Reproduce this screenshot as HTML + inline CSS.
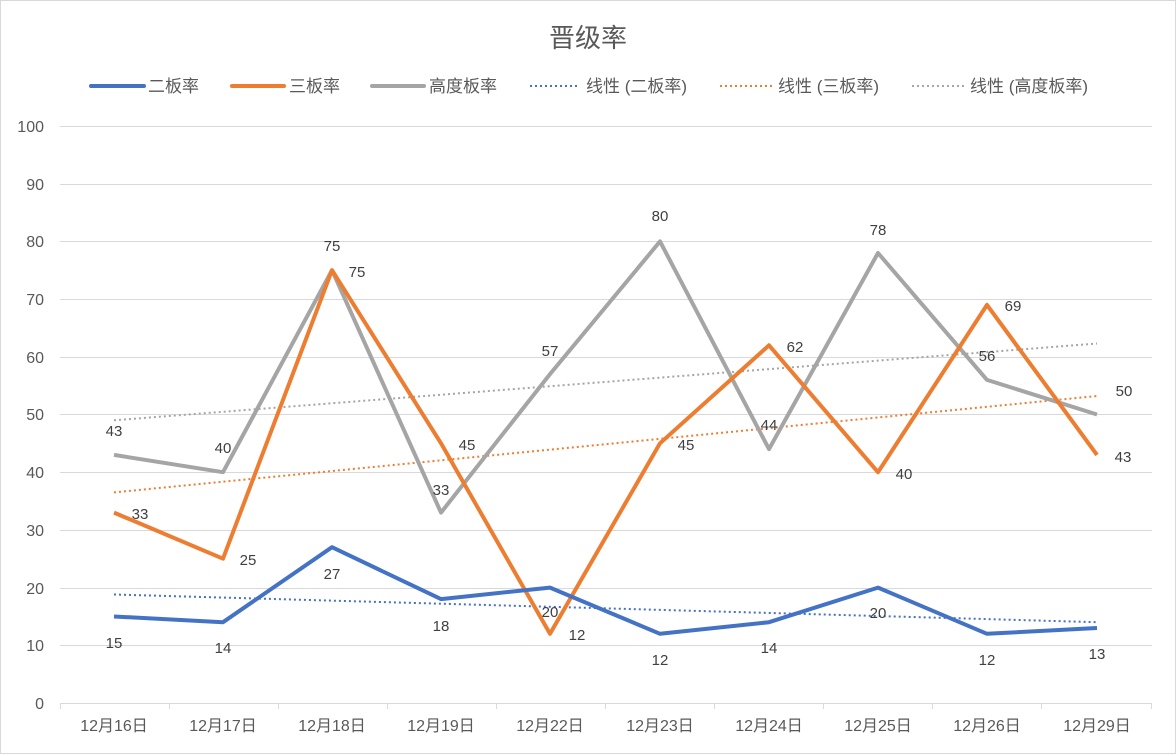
<!DOCTYPE html>
<html><head><meta charset="utf-8"><style>
body{margin:0;background:#fff}
svg{display:block;font-family:"Liberation Sans","Noto Sans CJK SC",sans-serif}
</style></head><body>
<svg width="1176" height="754" viewBox="0 0 1176 754">
<rect x="0.5" y="0.5" width="1175" height="753" fill="#fff" stroke="#d9d9d9"/>
<text x="588" y="47" font-size="26" text-anchor="middle" fill="#595959">晋级率</text>
<g font-size="17" fill="#595959">
<line x1="91" y1="86" x2="144" y2="86" stroke="#4472C4" stroke-width="4" stroke-linecap="round"/><text x="148" y="92">二板率</text>
<line x1="232" y1="86" x2="284" y2="86" stroke="#ED7D31" stroke-width="4" stroke-linecap="round"/><text x="289" y="92">三板率</text>
<line x1="372" y1="86" x2="424" y2="86" stroke="#A5A5A5" stroke-width="4" stroke-linecap="round"/><text x="429" y="92">高度板率</text>
<line x1="530" y1="86" x2="580" y2="86" stroke="#4472C4" stroke-width="2" stroke-dasharray="2,3"/><text x="586" y="92">线性 (二板率)</text>
<line x1="720" y1="86" x2="772" y2="86" stroke="#ED7D31" stroke-width="2" stroke-dasharray="2,3"/><text x="778" y="92">线性 (三板率)</text>
<line x1="912" y1="86" x2="964" y2="86" stroke="#A5A5A5" stroke-width="2" stroke-dasharray="2,3"/><text x="970" y="92">线性 (高度板率)</text>
</g>
<g stroke="#d9d9d9" stroke-width="1">
<line x1="60" x2="1152" y1="126.5" y2="126.5"/><line x1="60" x2="1152" y1="184.5" y2="184.5"/>
<line x1="60" x2="1152" y1="241.5" y2="241.5"/><line x1="60" x2="1152" y1="299.5" y2="299.5"/>
<line x1="60" x2="1152" y1="357.5" y2="357.5"/><line x1="60" x2="1152" y1="414.5" y2="414.5"/>
<line x1="60" x2="1152" y1="472.5" y2="472.5"/><line x1="60" x2="1152" y1="530.5" y2="530.5"/>
<line x1="60" x2="1152" y1="588.5" y2="588.5"/><line x1="60" x2="1152" y1="645.5" y2="645.5"/>
<line x1="60" x2="1152" y1="703.5" y2="703.5"/>
<line x1="60.5" x2="60.5" y1="703" y2="709"/><line x1="169.5" x2="169.5" y1="703" y2="709"/>
<line x1="278.5" x2="278.5" y1="703" y2="709"/><line x1="387.5" x2="387.5" y1="703" y2="709"/>
<line x1="496.5" x2="496.5" y1="703" y2="709"/><line x1="605.5" x2="605.5" y1="703" y2="709"/>
<line x1="714.5" x2="714.5" y1="703" y2="709"/><line x1="823.5" x2="823.5" y1="703" y2="709"/>
<line x1="932.5" x2="932.5" y1="703" y2="709"/><line x1="1041.5" x2="1041.5" y1="703" y2="709"/>
<line x1="1151.5" x2="1151.5" y1="703" y2="709"/>
</g>
<g font-size="16" fill="#595959" text-anchor="end">
<text x="44" y="132">100</text><text x="44" y="190">90</text><text x="44" y="247">80</text>
<text x="44" y="305">70</text><text x="44" y="363">60</text><text x="44" y="420">50</text>
<text x="44" y="478">40</text><text x="44" y="536">30</text><text x="44" y="594">20</text>
<text x="44" y="651">10</text><text x="44" y="709">0</text>
</g>
<g font-size="16" fill="#595959" text-anchor="middle">
<text x="114" y="731">12月16日</text><text x="223" y="731">12月17日</text><text x="332" y="731">12月18日</text>
<text x="441" y="731">12月19日</text><text x="550" y="731">12月22日</text><text x="660" y="731">12月23日</text>
<text x="769" y="731">12月24日</text><text x="878" y="731">12月25日</text><text x="987" y="731">12月26日</text>
<text x="1097" y="731">12月29日</text>
</g>
<g fill="none" stroke-width="2" stroke-dasharray="2,3">
<line x1="114" y1="594.5" x2="1097" y2="622.2" stroke="#4472C4"/>
<line x1="114" y1="492.4" x2="1097" y2="396" stroke="#ED7D31"/>
<line x1="114" y1="420.3" x2="1097" y2="343.5" stroke="#A5A5A5"/>
</g>
<g fill="none" stroke-width="4" stroke-linejoin="round">
<polyline stroke="#A5A5A5" points="114,454.9 223,472.2 332,270.2 441,512.6 550,374.1 660,241.4 769,449.1 878,253 987,379.9 1097,414.5"/>
<polyline stroke="#ED7D31" points="114,512.6 223,558.7 332,270.2 441,443.3 550,633.8 660,443.3 769,345.3 878,472.2 987,304.9 1097,454.9"/>
<polyline stroke="#4472C4" points="114,616.5 223,622.2 332,547.2 441,599.1 550,587.6 660,633.8 769,622.2 878,587.6 987,633.8 1097,628"/>
</g>
<g font-size="15" fill="#404040" text-anchor="middle">
<text x="114" y="648">15</text><text x="223" y="653">14</text><text x="332" y="579">27</text><text x="441" y="631">18</text>
<text x="550" y="617">20</text><text x="660" y="665">12</text><text x="769" y="653">14</text><text x="878" y="618">20</text>
<text x="987" y="665">12</text><text x="1097" y="659">13</text>
<text x="140" y="519">33</text><text x="248" y="565">25</text><text x="357" y="277">75</text><text x="467" y="450">45</text>
<text x="577" y="640">12</text><text x="686" y="450">45</text><text x="795" y="352">62</text><text x="904" y="479">40</text>
<text x="1013" y="311">69</text><text x="1123" y="462">43</text>
<text x="114" y="436">43</text><text x="223" y="453">40</text><text x="332" y="251">75</text><text x="441" y="495">33</text>
<text x="550" y="356">57</text><text x="660" y="221">80</text><text x="769" y="430">44</text><text x="878" y="235">78</text>
<text x="987" y="361">56</text><text x="1124" y="396">50</text>
</g>
</svg>
</body></html>
